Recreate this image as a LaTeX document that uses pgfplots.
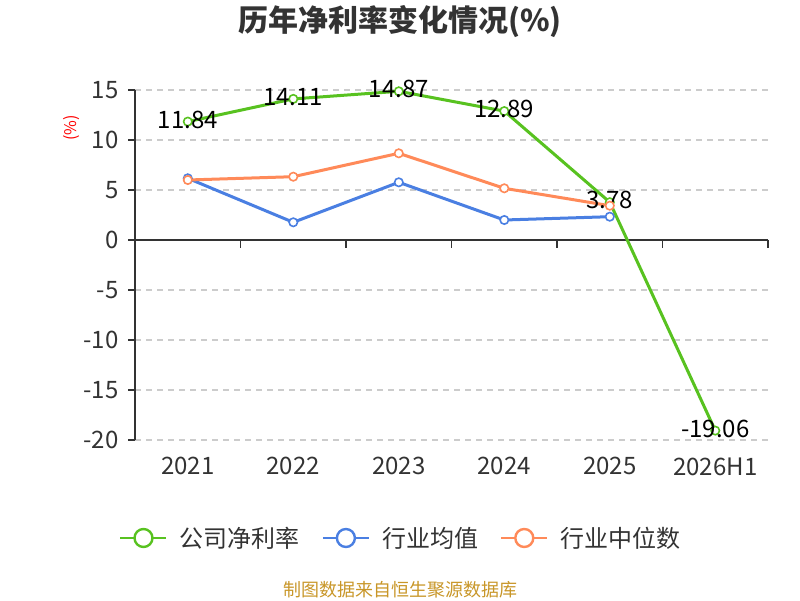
\documentclass[border=0pt]{standalone}
\usepackage{pgfplots}
\pgfplotsset{compat=1.18}
\usepackage{fontspec}
\setmainfont{Noto Sans CJK SC}
\definecolor{cgreen}{RGB}{88,194,32}
\definecolor{cblue}{RGB}{74,127,226}
\definecolor{corange}{RGB}{255,138,89}
\definecolor{cgrid}{RGB}{204,204,204}
\definecolor{ctext}{RGB}{51,51,51}
\definecolor{cax}{RGB}{51,51,51}
\definecolor{cfoot}{RGB}{200,150,40}
\begin{document}
\begin{tikzpicture}[x=1pt,y=1pt]
\useasboundingbox (0,0) rectangle (800,600);
\node[font=\fontsize{30}{30}\selectfont\bfseries, text=ctext] at (400,578) {历年净利率变化情况(\%)};
\node[rotate=90, text=red, font=\fontsize{16}{16}\selectfont] at (72,472) {(\%)};
\node[font=\fontsize{18}{18}\selectfont, text=cfoot] at (400,10) {制图数据来自恒生聚源数据库};
\begin{axis}[
  at={(128,160)}, anchor=south west,
  scale only axis, width=633pt, height=350pt,
  xmin=-0.5, xmax=5.5, ymin=-20, ymax=15,
  xtick={0,1,2,3,4,5},
  xticklabels={2021,2022,2023,2024,2025,2026H1},
  ytick={-20,-15,-10,-5,0,5,10,15},
  yticklabels={-20,-15,-10,-5,0,5,10,15},
  axis y line*=left, axis x line*=bottom,
  x axis line style={draw=none},
  y axis line style={draw=cax, line width=1.4pt},
  xtick style={draw=none},
  ytick style={draw=cax, line width=1.4pt},
  tick align=outside, major tick length=7pt,
  ymajorgrids,
  major grid style={dash pattern=on 6pt off 5pt, draw=cgrid, line width=1.2pt},
  ticklabel style={font=\fontsize{24}{24}\selectfont, text=ctext},
  xticklabel style={yshift=-7pt},
  yticklabel style={xshift=-6pt},
  clip=false,
  legend style={at={(0.42,-0.28)}, anchor=center, draw=none, fill=none,
    legend columns=3, font=\fontsize{24}{24}\selectfont, text=ctext,
    /tikz/every even column/.append style={column sep=20pt},
    /tikz/every odd column/.append style={column sep=10pt}},
  legend cell align=left,
  legend image code/.code={
    \draw[mark repeat=2, mark phase=2, #1, mark size=9pt, line width=2.4pt,
      mark options={solid, fill=white, line width=2.4pt}]
      plot coordinates {(0pt,0pt) (23pt,0pt) (46pt,0pt)};},
  every node near coord/.style={anchor=center, yshift=2pt,
    font=\fontsize{24}{24}\selectfont, text=black},
]
\draw[cax, line width=1.4pt] (axis cs:-0.5,0) -- (axis cs:5.5,0);
\pgfplotsinvokeforeach{0.5,1.5,2.5,3.5,4.5,5.5}{
  \draw[cax, line width=1.4pt] (axis cs:#1,0) -- ([yshift=-8pt]axis cs:#1,0);
}
\addplot[cgreen, line width=3pt, mark=*, mark size=4.2pt,
  mark options={solid, fill=white, line width=1.6pt},
  nodes near coords, point meta=explicit symbolic]
  coordinates {(0,11.84)[11.84] (1,14.11)[14.11] (2,14.87)[14.87]
               (3,12.89)[12.89] (4,3.78)[3.78] (5,-19.06)[-19.06]};
\addlegendentry{公司净利率}
\addplot[cblue, line width=3pt, mark=*, mark size=4.2pt,
  mark options={solid, fill=white, line width=1.6pt}]
  coordinates {(0,6.17) (1,1.77) (2,5.77) (3,2.0) (4,2.33)};
\addlegendentry{行业均值}
\addplot[corange, line width=3pt, mark=*, mark size=4.2pt,
  mark options={solid, fill=white, line width=1.6pt}]
  coordinates {(0,6.0) (1,6.33) (2,8.67) (3,5.17) (4,3.43)};
\addlegendentry{行业中位数}
\end{axis}
\end{tikzpicture}
\end{document}
